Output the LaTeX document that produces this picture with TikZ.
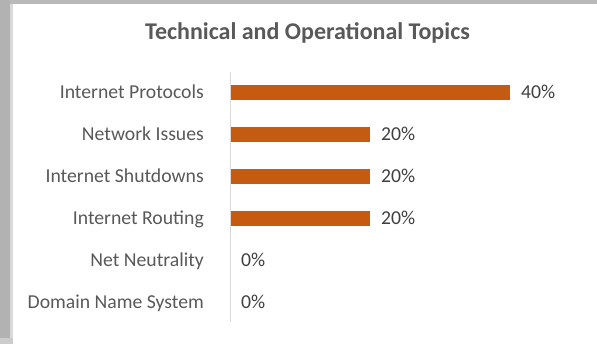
\documentclass[tikz,border=0pt]{standalone}
\usepackage{fontspec}
\setmainfont{Carlito}
\definecolor{barc}{HTML}{C55A11}
\definecolor{labc}{HTML}{595959}
\definecolor{pctc}{HTML}{404040}
\definecolor{axc}{HTML}{D9D9D9}
\begin{document}
\begin{tikzpicture}[x=1pt,y=-1pt,
  catlabel/.style={anchor=base east,inner sep=0pt,text=labc,font=\fontsize{19.7}{22}\selectfont},
  pctlabel/.style={anchor=base west,inner sep=0pt,text=pctc,font=\fontsize{19.7}{22}\selectfont},
  titlestyle/.style={anchor=base,inner sep=0pt,text=labc,font=\fontsize{24}{26}\selectfont\bfseries},
  barstyle/.style={fill=barc,draw=none}]
\useasboundingbox (0,0) rectangle (597,344);
\fill[white] (0,0) rectangle (597,344);
% window border shading
\fill[gray!55] (0,0) rectangle (597,4);
\fill[gray!60] (0,0) rectangle (10,344);
\fill[gray!30] (10,4) rectangle (13,344);
\fill[gray!40] (0,338) rectangle (13,344);
% title
\node[titlestyle] (title) at (307.5,40) {Technical and Operational Topics};
% axis
\coordinate (axtop) at (230,72);
\coordinate (axbot) at (230,322);
\draw[axc,line width=1pt] (axtop) -- (axbot);
% rows
\foreach \i/\lab/\w/\p in {0/Internet Protocols/280/40\%,1/Network Issues/140/20\%,2/Internet Shutdowns/140/20\%,3/Internet Routing/140/20\%,4/Net Neutrality/0/0\%,5/Domain Name System/0/0\%}{
  \pgfmathsetmacro{\yc}{92.5+42*\i}
  \node[catlabel] (cat\i) at (204,\yc+6.5) {\lab};
  \ifdim\w pt>0pt
    \fill[barstyle] (230.5,\yc-7.5) rectangle (230+\w,\yc+7.5);
  \fi
  \node[pctlabel] (pct\i) at (230+\w+11,\yc+6.5) {\p};
}
\end{tikzpicture}
\end{document}
